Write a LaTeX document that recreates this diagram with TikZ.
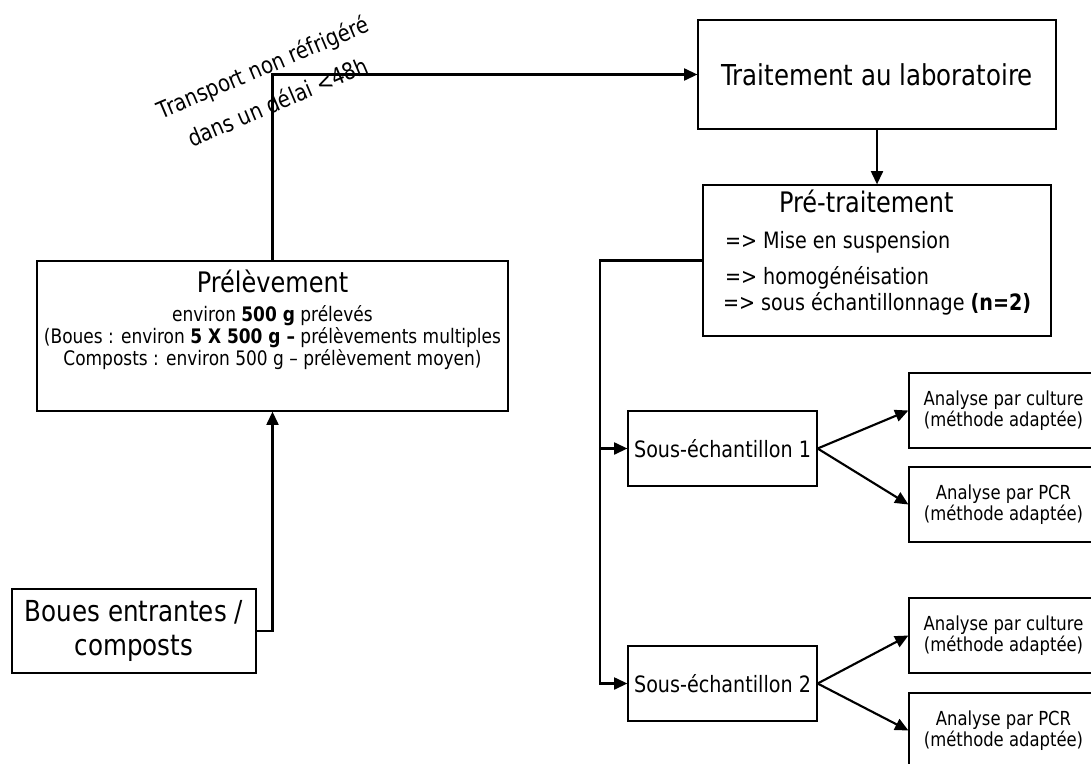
\documentclass[tikz,border=0pt]{standalone}
\usepackage{fontspec}
\setmainfont[FakeStretch=0.85]{DejaVu Sans}
\usetikzlibrary{arrows.meta, positioning}

\begin{document}
\begin{tikzpicture}[x=0.75pt, y=-0.75pt,
    box/.style={draw, line width=0.9pt, inner sep=0pt, align=center},
    sub/.style={box, minimum width=141.75pt, minimum height=56.25pt, font=\fontsize{16.9}{19}\selectfont},
    ana/.style={box, minimum width=141.75pt, minimum height=56.25pt, font=\fontsize{14.5}{14.5}\selectfont},
    conn/.style={line width=1.6pt, -{Triangle[length=10pt, width=9pt]}}]
    \useasboundingbox (0,0) rectangle (1091,763);
    \clip (0,0) rectangle (1091,763);

    \node[box, minimum width=268.5pt, minimum height=81.75pt, font=\fontsize{21.6}{24}\selectfont] (trait) at (877,74.5) {Traitement au laboratoire};
    \node[box] (pret) at (877,260.5) {\parbox[c][113.25pt][t]{261pt}{\fontsize{16.9}{16}\selectfont\raggedright
        \rule{0pt}{20.8pt}\hspace*{57pt}{\fontsize{21.2}{16}\selectfont Pré-traitement}\\[10.5pt]
        \hspace*{16.5pt}=> Mise en suspension\\[9.3pt]
        \hspace*{16.5pt}=> homogénéisation\\[1.5pt]
        \hspace*{15pt}=> sous échantillonnage \textbf{(n=2)}}};
    \node[box] (prel) at (272.5,336) {\parbox[c][112.5pt][t]{353.25pt}{\fontsize{15}{15}\selectfont\centering
        \rule{0pt}{23.25pt}{\fontsize{21.2}{15}\selectfont Prélèvement}\\[7.3pt]
        \mbox{environ \textbf{500 g} prélevés}\\
        \mbox{(Boues : environ \textbf{5 X 500 g –} prélèvements multiples}\\
        \mbox{Composts : environ 500 g – prélèvement moyen)}}};
    \node[box, minimum width=183pt, minimum height=63pt, font=\fontsize{21.7}{25}\selectfont] (boues) at (134,631) {Boues entrantes /\\composts};

    \node[sub] (sous1) at (722.5,448.5) {Sous-échantillon 1};
    \node[sub] (sous2) at (722.5,683.5) {Sous-échantillon 2};
    \node[ana] (ana1) at (1003.5,410.5) {Analyse par culture\\(méthode adaptée)};
    \node[ana] (ana2) at (1003.5,504.5) {Analyse par PCR\\(méthode adaptée)};
    \node[ana] (ana3) at (1003.5,635.5) {Analyse par culture\\(méthode adaptée)};
    \node[ana] (ana4) at (1003.5,730.5) {Analyse par PCR\\(méthode adaptée)};

    \node[rotate=23, align=center, font=\fontsize{17.4}{28.5}\selectfont] (transp) at (270,84) {Transport non réfrigéré\\dans un délai <48h};

    % arrows
    \draw[conn] (boues.east) -| (prel.south);
    \draw[conn] (prel.north) |- (trait.west);
    \draw[conn] (trait.south) -- (pret.north);
    \draw[conn] (pret.west) -| ([xshift=-20.25pt]sous2.west) -- (sous2.west);
    \draw[conn] ([xshift=-20.25pt]sous1.west) -- (sous1.west);
    \draw[conn] (sous1.east) -- (ana1.west);
    \draw[conn] (sous1.east) -- (ana2.west);
    \draw[conn] (sous2.east) -- (ana3.west);
    \draw[conn] (sous2.east) -- (ana4.west);
\end{tikzpicture}
\end{document}
